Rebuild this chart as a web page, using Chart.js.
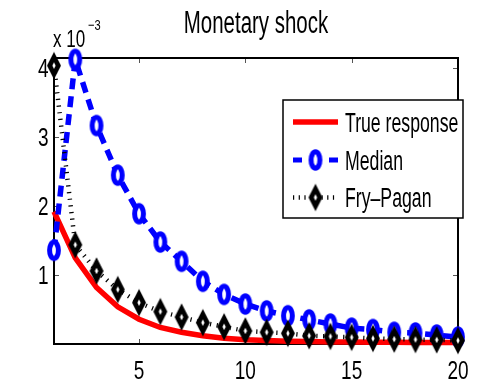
<!DOCTYPE html>
<html>
<head>
<meta charset="utf-8">
<title>Monetary shock</title>
<script src="https://cdn.jsdelivr.net/npm/chart.js@4/dist/chart.umd.min.js"></script>
<style>
  html, body { margin: 0; padding: 0; background: #fff; }
  #wrap { width: 478px; height: 387px; }
</style>
</head>
<body>
<div id="wrap"><canvas id="c" width="478" height="387"></canvas></div>
<script>
// Impulse responses to a monetary shock, in units of 10^-3
const horizons = [1, 2, 3, 4, 5, 6, 7, 8, 9, 10, 11, 12, 13, 14, 15, 16, 17, 18, 19, 20];
const trueResponse = [1.92, 1.25, 0.82, 0.54, 0.36, 0.24, 0.17, 0.12, 0.085, 0.06, 0.05, 0.04, 0.035, 0.03, 0.03, 0.025, 0.025, 0.02, 0.02, 0.02];
const median = [1.36, 4.13, 3.17, 2.45, 1.89, 1.48, 1.20, 0.91, 0.72, 0.58, 0.48, 0.41, 0.35, 0.29, 0.23, 0.21, 0.17, 0.16, 0.13, 0.10];
const fryPagan = [4.04, 1.44, 1.06, 0.79, 0.60, 0.47, 0.39, 0.31, 0.25, 0.19, 0.17, 0.155, 0.12, 0.11, 0.097, 0.08, 0.07, 0.065, 0.06, 0.05];
const seriesLabels = ['True response', 'Median', 'Fry\u2013Pagan'];
const xTicks = [5, 10, 15, 20];
const yTicks = [1, 2, 3, 4];
const titleText = 'Monetary shock';

const FONT = "'Liberation Sans', Arial, Helvetica, sans-serif";
const RED = '#ff0000', BLUE = '#0000ff', BLACK = '#000000';

// Condensed text: a regular face squeezed horizontally
function condensed(ctx, s, x, y, size, sx, align) {
  ctx.save();
  ctx.font = size + 'px ' + FONT;
  ctx.translate(x, y);
  ctx.scale(sx, 1);
  ctx.textAlign = align;
  ctx.textBaseline = 'alphabetic';
  ctx.fillStyle = BLACK;
  ctx.fillText(s, 0, 0);
  ctx.restore();
}

// Hollow ellipse marker for the median series
function ellipseMarker() {
  const c = document.createElement('canvas');
  c.width = 16; c.height = 26;
  const g = c.getContext('2d');
  g.beginPath();
  g.ellipse(8, 13, 4.4, 8.2, 0, 0, Math.PI * 2);
  g.fillStyle = '#fff'; g.fill();
  g.lineWidth = 5; g.strokeStyle = BLUE; g.stroke();
  return c;
}
// Tall hollow diamond marker for the Fry-Pagan series
function diamondMarker() {
  const c = document.createElement('canvas');
  c.width = 18; c.height = 30;
  const g = c.getContext('2d');
  g.beginPath();
  g.moveTo(9, 15 - 8.5); g.lineTo(9 + 4.3, 15); g.lineTo(9, 15 + 8.5); g.lineTo(9 - 4.3, 15);
  g.closePath();
  g.fillStyle = '#fff'; g.fill();
  g.lineJoin = 'miter'; g.miterLimit = 10;
  g.lineWidth = 4.8; g.strokeStyle = BLACK; g.stroke();
  return c;
}
const circ = ellipseMarker();
const diam = diamondMarker();

const toPoints = ys => horizons.map((h, i) => ({ x: h, y: ys[i] }));

// Axes box with inward ticks, tick labels, legend, title and exponent label
const decorations = {
  id: 'decorations',
  beforeDatasetsDraw(chart) {
    const { ctx, chartArea: a, scales } = chart;
    ctx.save();
    ctx.strokeStyle = '#555'; ctx.lineWidth = 1;
    ctx.beginPath();
    xTicks.forEach(v => {
      const px = Math.round(scales.x.getPixelForValue(v)) + 0.5;
      ctx.moveTo(px, a.bottom); ctx.lineTo(px, a.bottom - 5);
      ctx.moveTo(px, a.top); ctx.lineTo(px, a.top + 5);
    });
    yTicks.forEach(v => {
      const py = Math.round(scales.y.getPixelForValue(v)) + 0.5;
      ctx.moveTo(a.left, py); ctx.lineTo(a.left + 5, py);
      ctx.moveTo(a.right, py); ctx.lineTo(a.right - 5, py);
    });
    ctx.stroke();
    ctx.strokeStyle = BLACK; ctx.lineWidth = 2;
    ctx.strokeRect(a.left, a.top, a.right - a.left, a.bottom - a.top);
    ctx.restore();

    // tick labels
    xTicks.forEach(v => condensed(ctx, String(v), scales.x.getPixelForValue(v), a.bottom + 35, 25, 0.76, 'center'));
    yTicks.forEach(v => condensed(ctx, String(v), a.left - 5.5, scales.y.getPixelForValue(v) + 9, 25, 0.76, 'right'));
  },
  afterDatasetsDraw(chart) {
    const { ctx, chartArea: a } = chart;
    // title
    condensed(ctx, titleText, (a.left + a.right) / 2, 33, 31, 0.66, 'center');
    // exponent label
    condensed(ctx, 'x 10', 53, 46.5, 23, 0.74, 'left');
    condensed(ctx, '\u22123', 88, 30, 15, 0.74, 'left');

    // legend
    ctx.save();
    const bx = 283, by = 100, bw = 180, bh = 118;
    ctx.fillStyle = '#fff';
    ctx.fillRect(bx, by, bw, bh);
    ctx.strokeStyle = BLACK; ctx.lineWidth = 1.5;
    ctx.strokeRect(bx, by, bw, bh);
    const x0 = 293, x1 = 338, xm = 315.5;
    const rows = [122, 160, 197.5];
    // true response sample
    ctx.strokeStyle = RED; ctx.lineWidth = 5.5;
    ctx.beginPath(); ctx.moveTo(x0, rows[0]); ctx.lineTo(x1, rows[0]); ctx.stroke();
    // median sample
    ctx.strokeStyle = BLUE; ctx.lineWidth = 5;
    ctx.beginPath();
    ctx.moveTo(x0, rows[1]); ctx.lineTo(x0 + 9, rows[1]);
    ctx.moveTo(x1 - 9, rows[1]); ctx.lineTo(x1, rows[1]);
    ctx.stroke();
    ctx.drawImage(circ, xm - circ.width / 2, rows[1] - circ.height / 2);
    // Fry-Pagan sample
    ctx.strokeStyle = BLACK; ctx.lineWidth = 4.5;
    ctx.setLineDash([1.2, 4.5]);
    ctx.beginPath(); ctx.moveTo(x0, rows[2]); ctx.lineTo(x1, rows[2]); ctx.stroke();
    ctx.setLineDash([]);
    ctx.drawImage(diam, xm - diam.width / 2, rows[2] - diam.height / 2);
    ctx.restore();
    // legend text
    const baselines = [132, 170, 207];
    seriesLabels.forEach((t, i) => condensed(ctx, t, 345, baselines[i], 27, 0.655, 'left'));
  }
};

new Chart(document.getElementById('c'), {
  type: 'line',
  data: {
    datasets: [
      {
        label: seriesLabels[0], data: toPoints(trueResponse),
        borderColor: RED, borderWidth: 5.5, pointRadius: 0,
        tension: 0, clip: false, order: 3
      },
      {
        label: seriesLabels[1], data: toPoints(median),
        borderColor: BLUE, borderWidth: 5.5, borderDash: [11, 7],
        pointStyle: circ, pointRadius: 6, tension: 0, clip: false, order: 2
      },
      {
        label: seriesLabels[2], data: toPoints(fryPagan),
        borderColor: BLACK, borderWidth: 4.5, borderDash: [1.2, 5.5],
        pointStyle: diam, pointRadius: 6, tension: 0, clip: false, order: 1
      }
    ]
  },
  options: {
    responsive: false,
    animation: false,
    devicePixelRatio: 1,
    layout: { padding: { top: 58, right: 20, left: 0, bottom: 0 } },
    plugins: { legend: { display: false }, tooltip: { enabled: false }, title: { display: false } },
    scales: {
      x: {
        type: 'linear', min: 1, max: 20,
        grid: { display: false, drawTicks: false },
        border: { display: false },
        afterBuildTicks: ax => { ax.ticks = xTicks.map(v => ({ value: v })); },
        afterFit: s => { s.height = 43; },
        ticks: { display: false }
      },
      y: {
        type: 'linear', min: 0, max: 4.15,
        grid: { display: false, drawTicks: false },
        border: { display: false },
        afterBuildTicks: ax => { ax.ticks = yTicks.map(v => ({ value: v })); },
        afterFit: s => { s.width = 54; },
        ticks: { display: false }
      }
    }
  },
  plugins: [decorations]
});
</script>
</body>
</html>
